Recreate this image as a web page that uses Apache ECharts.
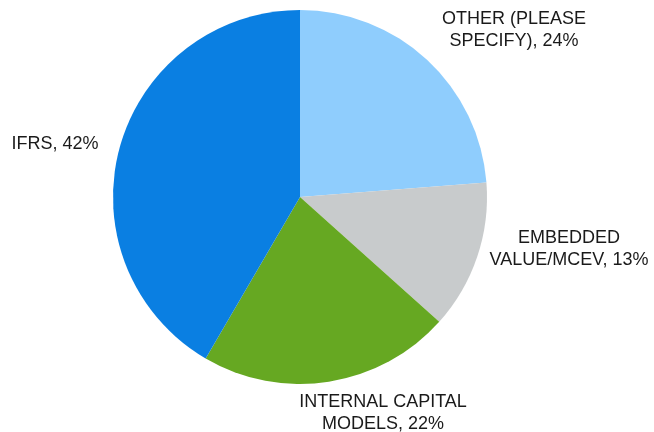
<!DOCTYPE html>
<html>
<head>
<meta charset="utf-8">
<script src="https://cdn.jsdelivr.net/npm/echarts@6/dist/echarts.min.js"></script>
<style>
  html, body { margin: 0; padding: 0; background: #ffffff; }
  #chart { width: 654px; height: 432px; }
</style>
</head>
<body>
<div id="chart"></div>
<script>
// Slice names (line breaks as shown in the labels) and their shares in percent
const categories = [
  'OTHER (PLEASE\nSPECIFY)',
  'EMBEDDED\nVALUE/MCEV',
  'INTERNAL CAPITAL\nMODELS',
  'IFRS'
];
const shares = [24, 13, 22, 42];
const sliceColors = ['#8fcdfd', '#c8cbcc', '#66a822', '#0a7fe2'];

// Where each label's text block is centred
const labelAnchors = [
  [514, 30],
  [569, 249],
  [383, 413],
  [55, 144]
];

const chart = echarts.init(document.getElementById('chart'), null, { renderer: 'canvas' });

chart.setOption({
  animation: false,
  backgroundColor: '#ffffff',
  series: [{
    type: 'pie',
    center: [300, 197],
    radius: [0, 187],
    startAngle: 90,
    clockwise: true,
    data: categories.map((name, i) => ({
      name: name,
      value: shares[i],
      itemStyle: { color: sliceColors[i] }
    })),
    itemStyle: { borderWidth: 0 },
    emphasis: { disabled: true },
    label: {
      show: true,
      position: 'outside',
      formatter: '{b}, {c}%',
      fontFamily: '"Liberation Sans", Arial, sans-serif',
      fontSize: 18,
      lineHeight: 22,
      color: '#1a1a1a',
      align: 'center',
      verticalAlign: 'middle',
      overflow: 'none'
    },
    labelLine: { show: false },
    labelLayout: function (params) {
      const p = labelAnchors[params.dataIndex];
      return { x: p[0], y: p[1], align: 'center', verticalAlign: 'middle' };
    }
  }]
});
</script>
</body>
</html>
